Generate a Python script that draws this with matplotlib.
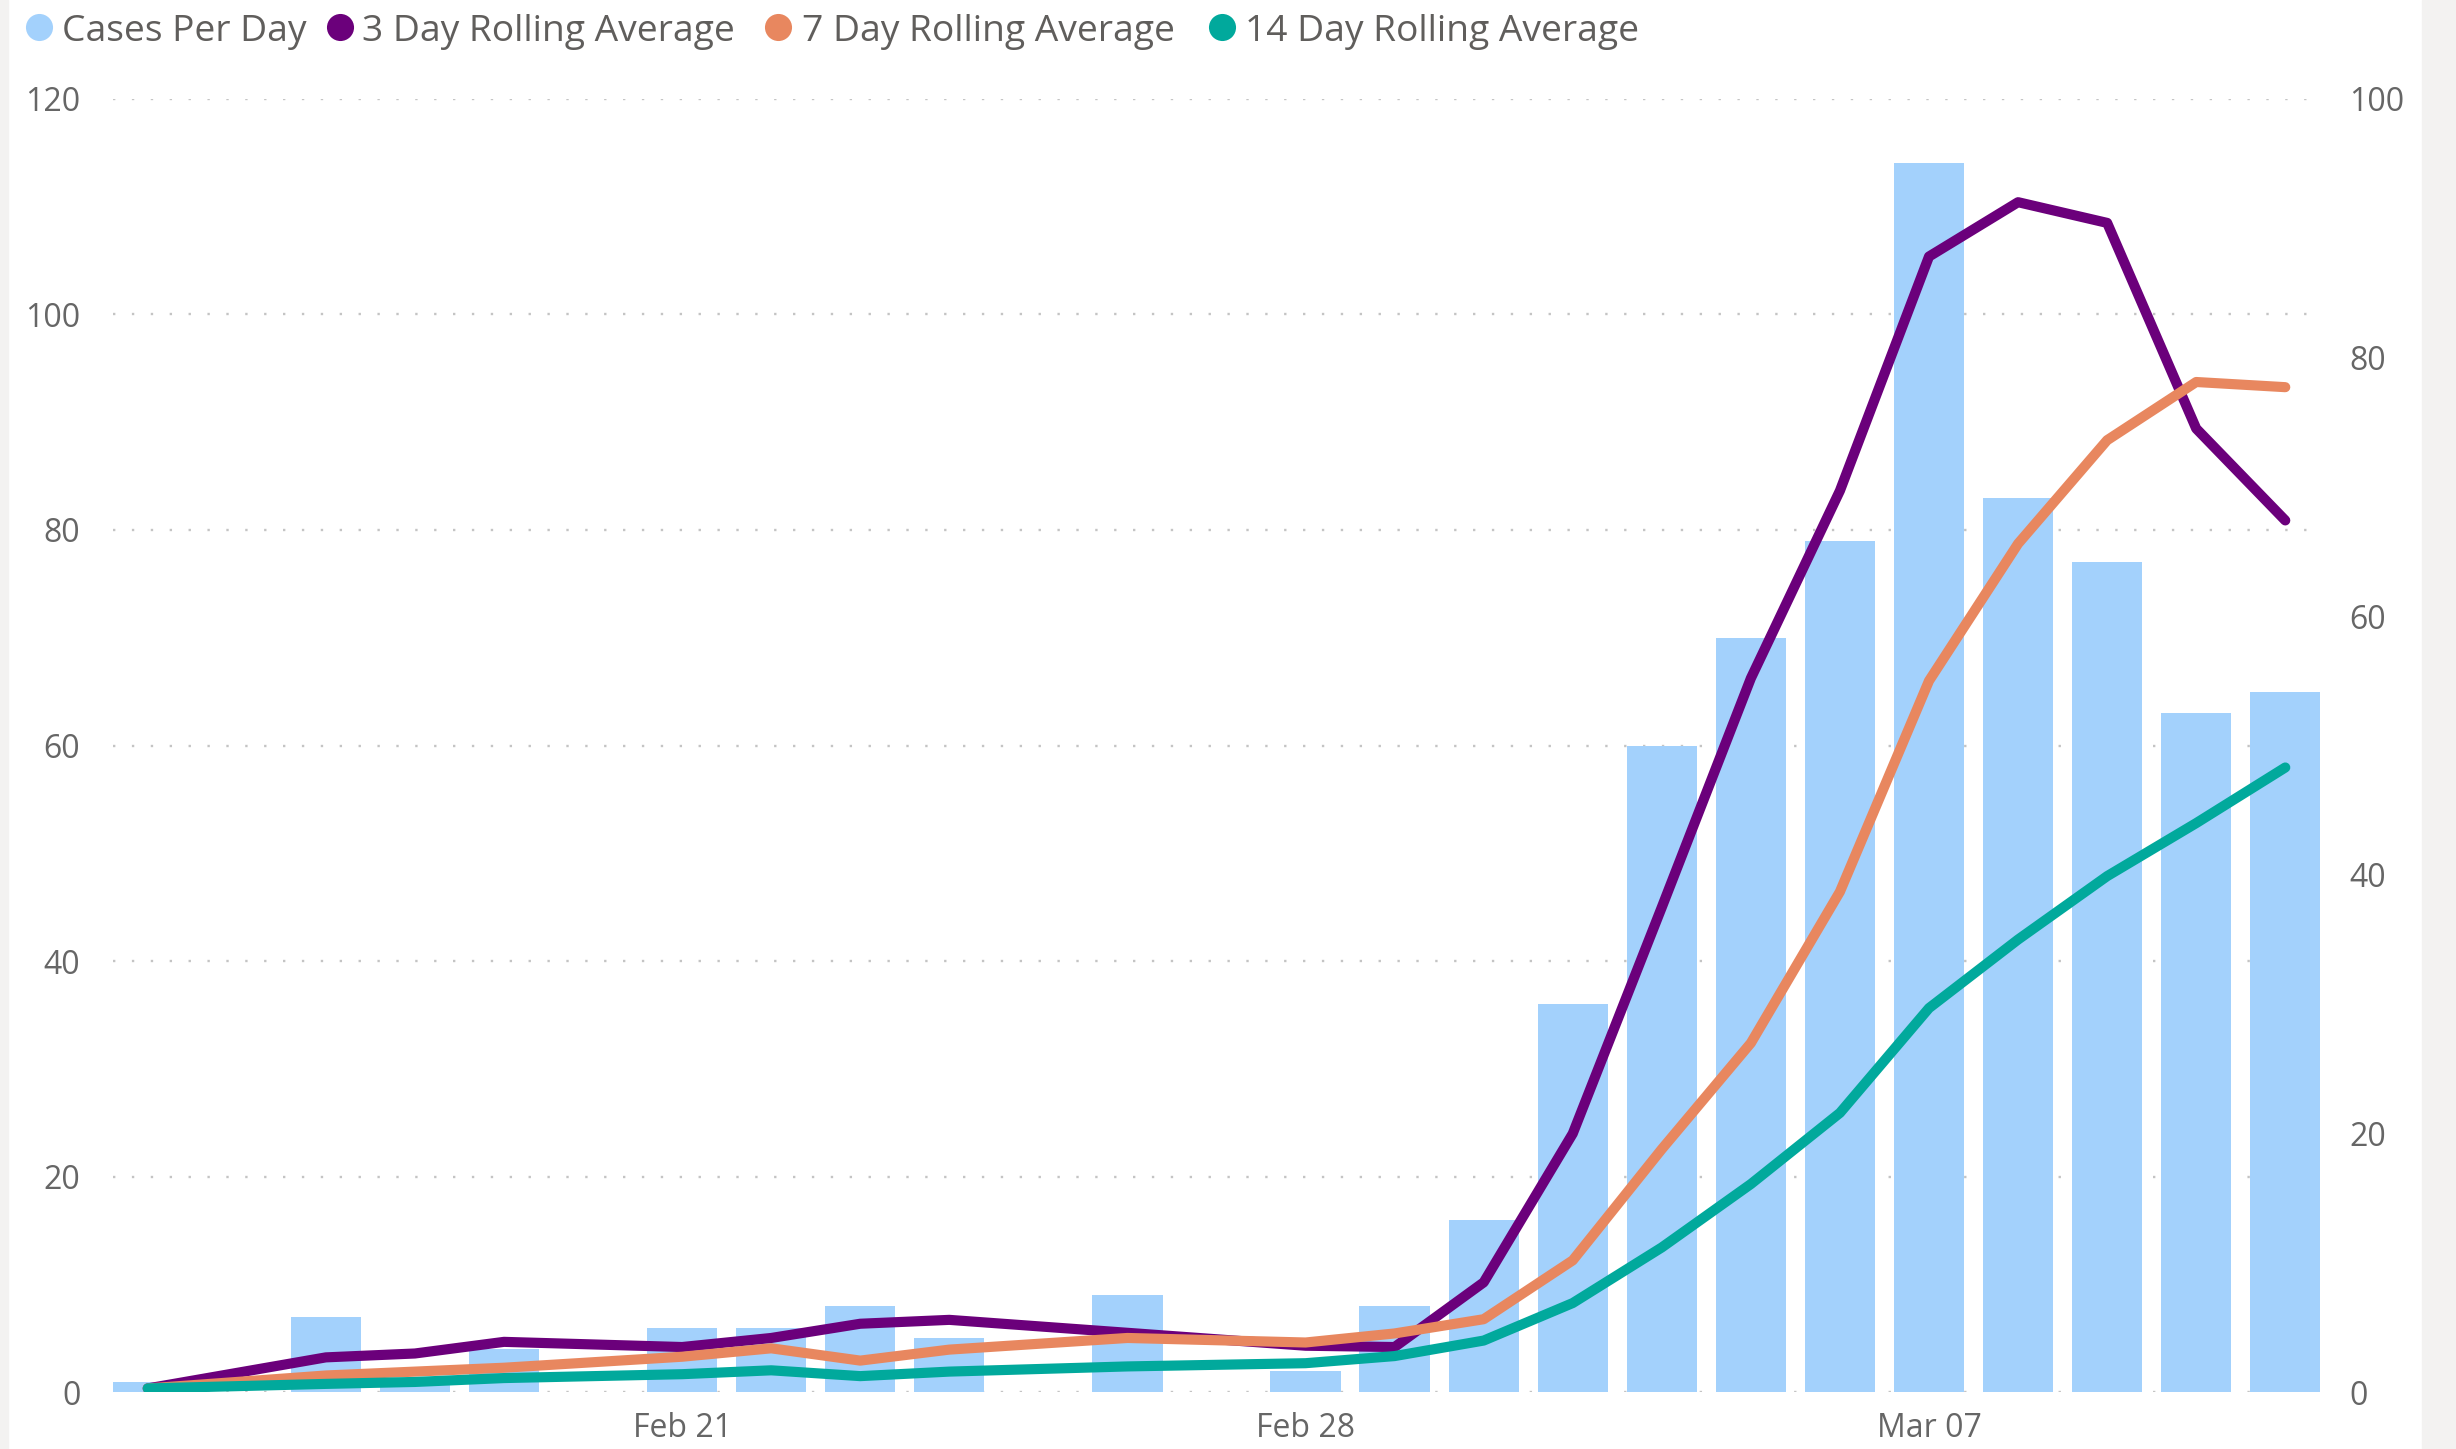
import matplotlib
matplotlib.use("Agg")
import matplotlib.pyplot as plt
import matplotlib.dates as mdates
from matplotlib.lines import Line2D
from matplotlib.patches import Rectangle
import datetime as dt

# ---------------- data ----------------
dates = ["2021-02-15", "2021-02-17", "2021-02-18", "2021-02-19", "2021-02-21",
         "2021-02-22", "2021-02-23", "2021-02-24", "2021-02-26", "2021-02-28",
         "2021-03-01", "2021-03-02", "2021-03-03", "2021-03-04", "2021-03-05",
         "2021-03-06", "2021-03-07", "2021-03-08", "2021-03-09", "2021-03-10",
         "2021-03-11"]
cases = [1, 7, 1, 4, 6, 6, 8, 5, 9, 2, 8, 16, 36, 60, 70, 79, 114, 83, 77, 63, 65]
avg3 = [0.3, 2.7, 3.0, 3.9, 3.5, 4.2, 5.3, 5.6, 4.6, 3.6, 3.5, 8.5, 20.0, 37.5,
        55.2, 69.7, 87.8, 92.0, 90.4, 74.5, 67.4]
avg7 = [0.3, 1.3, 1.6, 1.9, 2.75, 3.4, 2.45, 3.3, 4.2, 3.85, 4.55, 5.65, 10.2,
        18.8, 27.0, 38.7, 55.0, 65.6, 73.6, 78.1, 77.7]
avg14 = [0.3, 0.65, 0.8, 1.1, 1.4, 1.7, 1.25, 1.6, 2.0, 2.25, 2.8, 4.0, 6.9,
         11.2, 16.1, 21.6, 29.7, 35.0, 39.9, 44.0, 48.3]
series_names = ["Cases Per Day", "3 Day Rolling Average",
                "7 Day Rolling Average", "14 Day Rolling Average"]
left_ticks = [0, 20, 40, 60, 80, 100, 120]
right_ticks = [0, 20, 40, 60, 80, 100]
xtick_dates = ["2021-02-21", "2021-02-28", "2021-03-07"]

# ---------------- style ----------------
BAR = "#A3D1FC"
PURPLE = "#6B007B"
ORANGE = "#E8875F"
TEAL = "#01A99C"
TICK = "#666666"
GRID = "#C4C4C4"
FONT = ["Open Sans", "DejaVu Sans"]
plt.rcParams["font.family"] = FONT

W, H = 2456, 1449
fig = plt.figure(figsize=(W / 100, H / 100), dpi=100)
fig.patch.set_facecolor("white")

left_px, right_px, top_px, bot_px = 113, 2320, 98.7, 1392.3
ax = fig.add_axes([left_px / W, 1 - bot_px / H, (right_px - left_px) / W,
                   (bot_px - top_px) / H])
ax2 = ax.twinx()

x = [mdates.date2num(dt.datetime.strptime(d, "%Y-%m-%d")) for d in dates]

ax.bar(x, cases, width=0.79, color=BAR, zorder=2, linewidth=0)
ax.set_axisbelow(True)

for vals, col, z in [(avg3, PURPLE, 3), (avg7, ORANGE, 4), (avg14, TEAL, 5)]:
    ax2.plot(x, vals, color=col, lw=7.3, solid_capstyle="round",
             solid_joinstyle="round", zorder=z)

x0 = mdates.date2num(dt.datetime(2021, 2, 15))
x1 = mdates.date2num(dt.datetime(2021, 3, 11))
ax.set_xlim(x0 - 0.39, x1 + 0.39)
ax.set_ylim(0, 120)
ax2.set_ylim(0, 100)

ax.set_yticks(left_ticks)
ax2.set_yticks(right_ticks)
ax.set_xticks([mdates.date2num(dt.datetime.strptime(d, "%Y-%m-%d"))
               for d in xtick_dates])
ax.xaxis.set_major_formatter(mdates.DateFormatter("%b %d"))

ax.yaxis.grid(True, color=GRID, linestyle=(0, (1, 7)), linewidth=1.7)
ax.xaxis.grid(False)

for a in (ax, ax2):
    for s in a.spines.values():
        s.set_visible(False)
ax.tick_params(axis="y", length=0, pad=23.5, labelsize=23, labelcolor=TICK)
ax2.tick_params(axis="y", length=0, pad=21, labelsize=23, labelcolor=TICK)
ax.tick_params(axis="x", length=0, pad=14, labelsize=23, labelcolor=TICK)

# side bands of the report canvas
fig.add_artist(Rectangle((0, 0), 8 / W, 1, transform=fig.transFigure,
                         color="#F3F2F1", zorder=-5))
fig.add_artist(Rectangle((2422 / W, 0), (W - 2422) / W, 1,
                         transform=fig.transFigure, color="#F3F2F1", zorder=-5))

# legend
leg_colors = [BAR, PURPLE, ORANGE, TEAL]
marker_x = [39, 340, 778, 1222]
text_x = [62, 362, 802, 1245]
ym = 1 - 27 / H
yb = 1 - 40.7 / H
for name, col, mx, tx in zip(series_names, leg_colors, marker_x, text_x):
    fig.add_artist(Line2D([mx / W], [ym], marker="o", markersize=19.5,
                          color=col, markeredgewidth=0,
                          transform=fig.transFigure))
    fig.text(tx / W, yb, name, fontsize=26.8, color="#605E5C",
             ha="left", va="baseline")

fig.savefig("out.png", dpi=100, facecolor="white")
